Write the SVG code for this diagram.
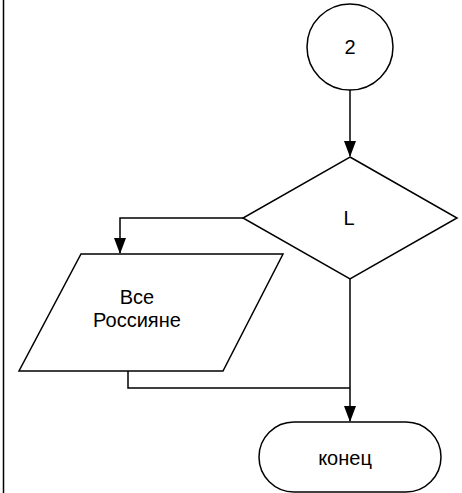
<svg xmlns="http://www.w3.org/2000/svg" width="462" height="493" viewBox="0 0 462 493">
<defs>
<style>
.s{fill:#fff;stroke:#000;stroke-width:1.5}
.c{fill:none;stroke:#000;stroke-width:1.5}
.t{font-family:"Liberation Sans",Arial,sans-serif;font-size:20px;fill:#000;text-anchor:middle;dominant-baseline:central}
</style>
</defs>
<rect width="462" height="493" fill="#fff"/>
<line x1="3.5" y1="0" x2="3.5" y2="493" stroke="#000" stroke-width="1.5"/>
<g id="connectors">
<path class="c" d="M350,88 V156"/>
<path class="c" d="M243,218 H120 V253"/>
<path class="c" d="M128,371 V388 H350"/>
<path class="c" d="M350,279 V421"/>
<path d="M344,141 H356 L350,157 Z"/>
<path d="M114,238 H126 L120,254 Z"/>
<path d="M344,406 H356 L350,422 Z"/>
</g>
<g id="n2">
<circle class="s" cx="350" cy="47" r="43"/>
<text class="t" x="350" y="47">2</text>
</g>
<g id="nL">
<polygon class="s" points="350,157 457,218 350,279 243,218"/>
<text class="t" x="349" y="218">L</text>
</g>
<g id="nRus">
<polygon class="s" points="81,254 283,254 223,371 19,371"/>
<text class="t" x="137" y="297">Все</text>
<text class="t" x="137" y="320">Россияне</text>
</g>
<g id="nEnd">
<rect class="s" x="259" y="422" width="182" height="70" rx="35" ry="35"/>
<text class="t" x="345" y="458">конец</text>
</g>
</svg>
